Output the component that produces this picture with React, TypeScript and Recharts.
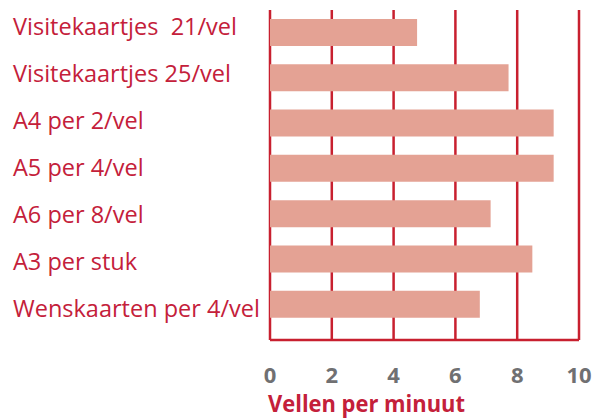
import { BarChart, Bar, XAxis, YAxis, CartesianGrid } from 'recharts'

const categories = [
  'Visitekaartjes  21/vel',
  'Visitekaartjes 25/vel',
  'A4 per 2/vel',
  'A5 per 4/vel',
  'A6 per 8/vel',
  'A3 per stuk',
  'Wenskaarten per 4/vel',
]
const sheetsPerMinute = [4.76, 7.72, 9.18, 9.18, 7.14, 8.49, 6.79]
const xTicks = [0, 2, 4, 6, 8, 10]
const xLabel = 'Vellen per minuut'

const RED = '#c8202f'
const TEXT_RED = '#c4203a'
const BAR = '#e4a294'
const GREY = '#707072'
const FONT = '"Open Sans", sans-serif'

const data = categories.map((name, i) => ({ name, value: sheetsPerMinute[i] }))

function CategoryTick(props: any) {
  const { y, payload } = props
  return (
    <text x={13} y={y} dy={1} textAnchor="start" fill={TEXT_RED} fontSize={23.5} fontFamily={FONT} style={{ whiteSpace: 'pre' }}>
      {payload.value}
    </text>
  )
}

function AxisTitle(props: any) {
  const vb = props.viewBox
  return (
    <text
      x={vb.x - 2}
      y={vb.y + vb.height - 6}
      textAnchor="start"
      fill={TEXT_RED}
      fontSize={23}
      fontWeight={700}
      fontFamily={FONT}
      textLength={197}
      lengthAdjust="spacingAndGlyphs"
    >
      {xLabel}
    </text>
  )
}

export default function App() {
  return (
    <div style={{ position: 'absolute', left: 0, top: 0, background: '#fff' }}>
      <BarChart
        width={608}
        height={418}
        data={data}
        layout="vertical"
        margin={{ top: 10, right: 29, bottom: 0, left: 8 }}
      >
        <CartesianGrid horizontal={false} stroke={RED} strokeWidth={2.5} yAxisId="bars" />
        <XAxis
          type="number"
          domain={[0, 10]}
          ticks={xTicks}
          height={78}
          axisLine={{ stroke: RED, strokeWidth: 2.5 }}
          tickLine={false}
          tickSize={0}
          tickMargin={27}
          tick={{ fill: GREY, fontSize: 22, fontWeight: 700, fontFamily: FONT }}
          label={<AxisTitle />}
        />
        <YAxis yAxisId="bars" type="category" dataKey="name" hide padding={{ top: 0, bottom: 13 }} />
        <YAxis
          yAxisId="labels"
          type="category"
          dataKey="name"
          width={262}
          axisLine={false}
          tickLine={false}
          tick={<CategoryTick />}
          interval={0}
        />
        <Bar yAxisId="bars" dataKey="value" fill={BAR} barSize={27} isAnimationActive={false} />
      </BarChart>
    </div>
  )
}
